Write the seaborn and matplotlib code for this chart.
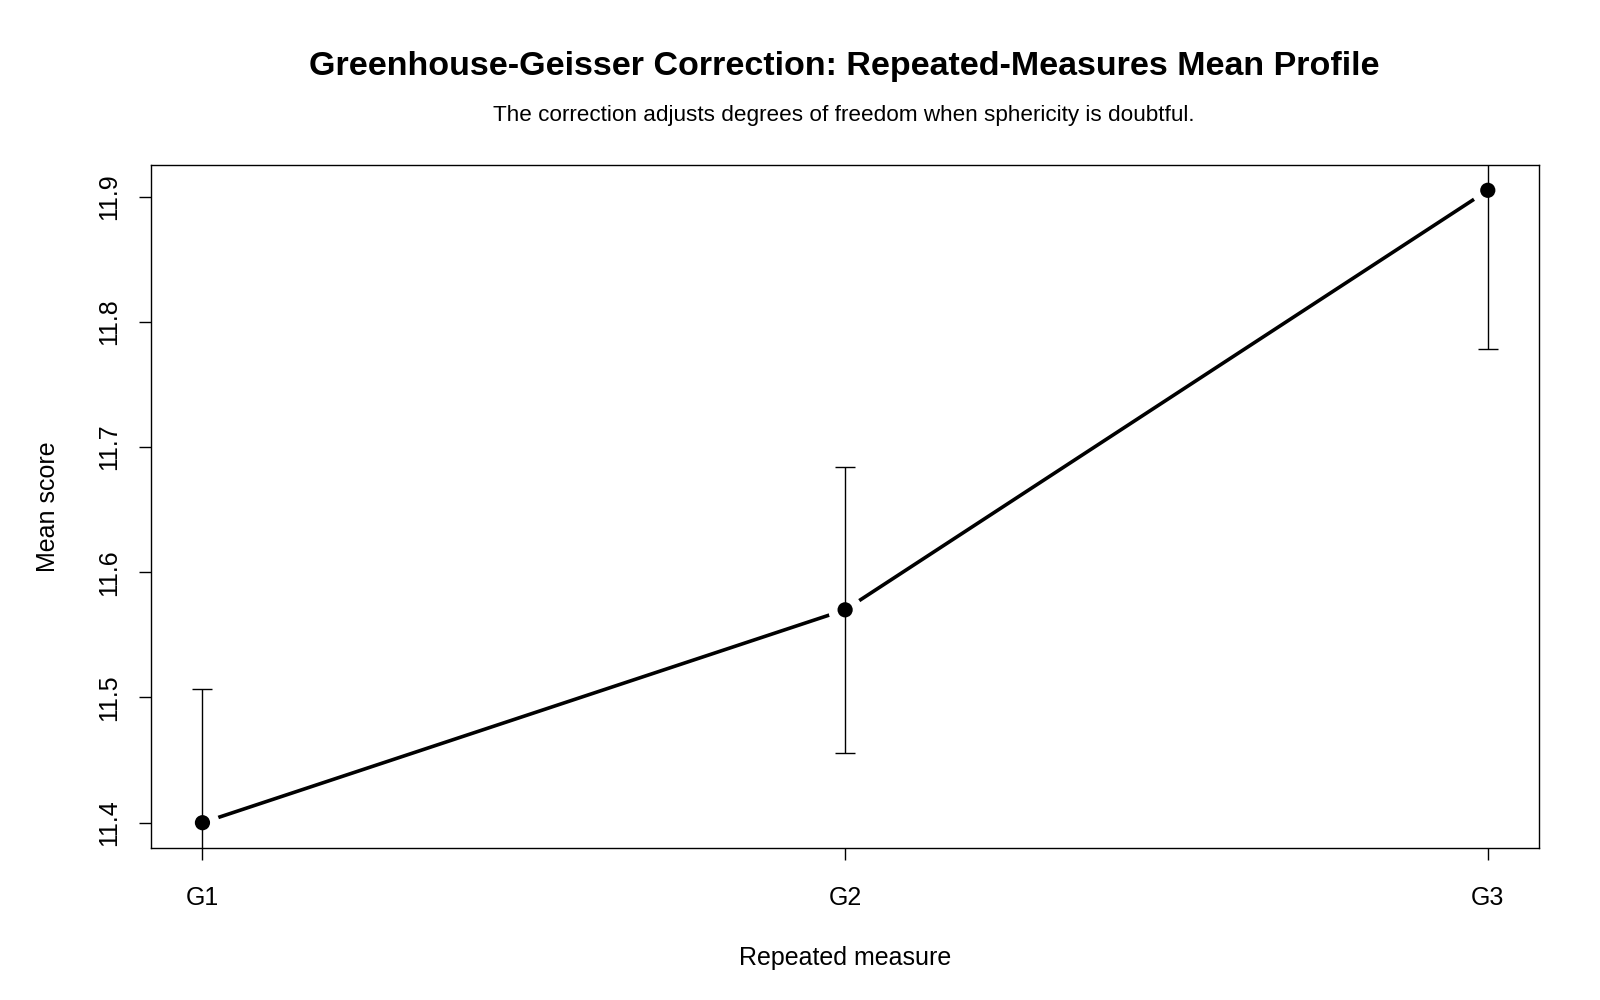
import numpy as np
import pandas as pd
import matplotlib
matplotlib.use("Agg")
import matplotlib.pyplot as plt
import seaborn as sns

# data
groups = ["G1", "G2", "G3"]
means = [11.400, 11.570, 11.905]
half_ci = [0.107, 0.114, 0.127]

title = "Greenhouse-Geisser Correction: Repeated-Measures Mean Profile"
subtitle = "The correction adjusts degrees of freedom when sphericity is doubtful."

sns.set_theme(style="ticks")
plt.rcParams["font.family"] = ["Liberation Sans", "DejaVu Sans"]
plt.rcParams["axes.edgecolor"] = "black"
plt.rcParams["axes.linewidth"] = 1.0
plt.rcParams["text.color"] = "black"
plt.rcParams["axes.labelcolor"] = "black"
plt.rcParams["xtick.color"] = "black"
plt.rcParams["ytick.color"] = "black"

df = pd.DataFrame({"pos": np.arange(1, len(groups) + 1), "mean": means, "ci": half_ci})

fig = plt.figure(figsize=(16, 10), dpi=100)
ax = fig.add_axes([0.0944, 0.152, 0.8676, 0.683])

# connecting line (R type="b": gaps around the points)
sns.lineplot(data=df, x="pos", y="mean", color="black", lw=2.6, ax=ax, zorder=1)
ax.scatter(df["pos"], df["mean"], s=600, color="white", zorder=2, linewidths=0)

# error bars, clipped by the plot region
ax.errorbar(df["pos"], df["mean"], yerr=df["ci"], fmt="none", ecolor="black",
            elinewidth=1.0, capsize=7.5, capthick=1.0, zorder=3)
sns.scatterplot(data=df, x="pos", y="mean", color="black", s=120, edgecolor="none",
                ax=ax, zorder=4)

# R-style 4% padding on the means
lo, hi = min(means), max(means)
pad = (hi - lo) * 0.04
ax.set_ylim(lo - pad, hi + pad)
ax.set_xlim(1 - 0.08, len(groups) + 0.08)

ax.set_xticks(df["pos"])
ax.set_xticklabels(groups)
ax.set_yticks([11.4, 11.5, 11.6, 11.7, 11.8, 11.9])
ax.set_yticklabels(["11.4", "11.5", "11.6", "11.7", "11.8", "11.9"], rotation=90, va="center")
ax.tick_params(axis="both", direction="out", length=8.5, width=1.0, colors="black",
               labelsize=18)
ax.tick_params(axis="x", pad=19)
ax.tick_params(axis="y", pad=13)

for s in ax.spines.values():
    s.set_visible(True)
    s.set_color("black")

ax.set_xlabel("Repeated measure", fontsize=18, labelpad=26)
ax.set_ylabel("Mean score", fontsize=18, labelpad=27)

fig.text(0.5275, 0.934, title, ha="center", va="center", fontsize=24.5, fontweight="bold")
fig.text(0.5275, 0.884, subtitle, ha="center", va="center", fontsize=16.2)

fig.savefig("out.png", dpi=100, facecolor="white")
